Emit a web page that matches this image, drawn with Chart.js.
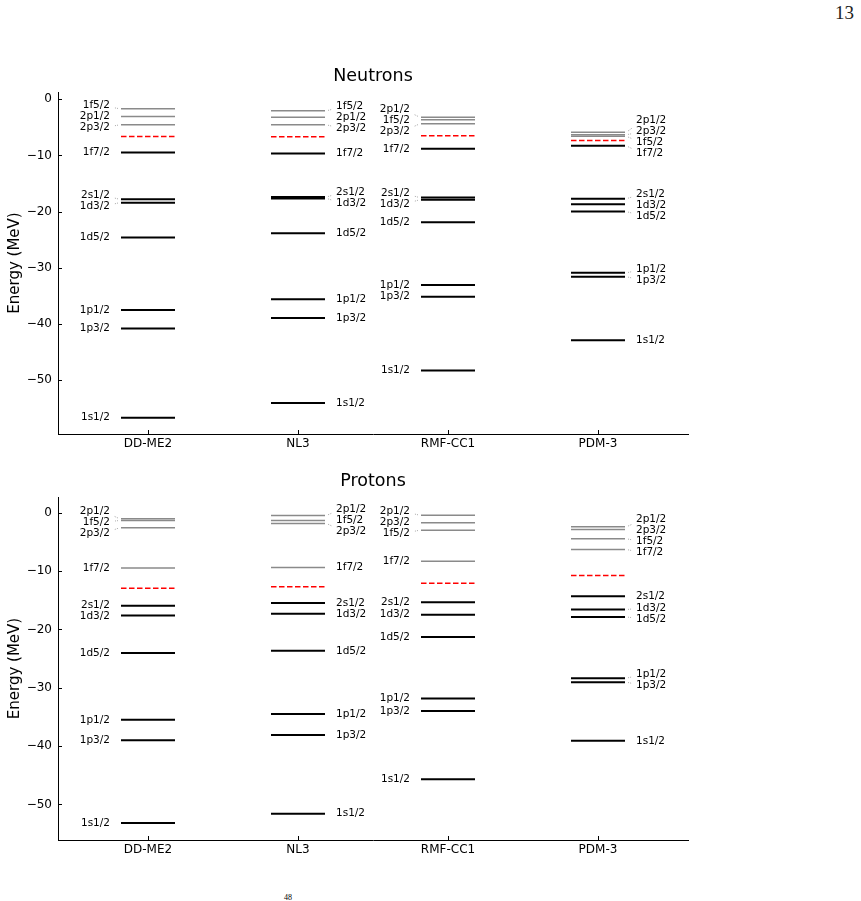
<!DOCTYPE html>
<html>
<head>
<meta charset="utf-8">
<script src="https://cdn.jsdelivr.net/npm/chart.js@4.4.1/dist/chart.umd.min.js"></script>
<style>
  html, body { margin: 0; padding: 0; background: #fff; }
  body { width: 861px; height: 901px; position: relative; overflow: hidden; }
  .panel { position: absolute; left: 0; width: 700px; height: 460px; }
  #pageNum { position: absolute; top: 2px; left: 835px; font-family: 'Liberation Serif', 'DejaVu Serif', serif; font-size: 19px; color: #222; }
  #footNote { position: absolute; top: 893px; left: 284px; font-family: 'Liberation Serif', serif; font-size: 8px; color: #000; }
</style>
</head>
<body>
<div id="pageNum">13</div>
<div class="panel" style="top:0px"><canvas id="neutronChart" width="700" height="460"></canvas></div>
<div class="panel" style="top:405px"><canvas id="protonChart" width="700" height="460"></canvas></div>
<div id="footNote">48</div>
<script>
// models and single-particle levels
const models = ["DD-ME2", "NL3", "RMF-CC1", "PDM-3"];
const levelNames = ["1s1/2", "1p3/2", "1p1/2", "1d5/2", "1d3/2", "2s1/2", "1f7/2", "2p3/2", "1f5/2", "2p1/2"];
const yTicks = [-50, -40, -30, -20, -10, 0];

// neutron levels (MeV), same order as levelNames
const neutronDDME2 = [-56.7, -40.8, -37.5, -24.6, -18.4, -17.8, -9.48, -4.55, -1.69, -3.06];
const neutronNL3   = [-54.1, -38.95, -35.6, -23.85, -17.65, -17.4, -9.66, -4.55, -2.05, -3.18];
const neutronRMF   = [-48.3, -35.15, -33.07, -21.9, -17.9, -17.5, -8.82, -4.37, -3.65, -3.18];
const neutronPDM   = [-42.9, -31.6, -30.9, -20.0, -18.7, -17.7, -8.29, -6.3, -6.6, -5.85];
const neutronFermi = [-6.63, -6.68, -6.5, -7.33];

// proton levels (MeV)
const protonDDME2 = [-53.2, -39.0, -35.5, -24.05, -17.6, -15.93, -9.45, -2.58, -1.32, -1.03];
const protonNL3   = [-51.6, -38.1, -34.5, -23.66, -17.3, -15.46, -9.4, -1.84, -1.32, -0.46];
const protonRMF   = [-45.7, -33.97, -31.85, -21.3, -17.47, -15.36, -8.31, -1.72, -2.98, -0.41];
const protonPDM   = [-39.1, -29.04, -28.35, -17.87, -16.6, -14.32, -6.3, -2.87, -4.47, -2.41];
const protonFermi = [-12.95, -12.7, -12.1, -10.77];

const HALF = 0.18;   // half length of a level line (category units)

// push overlapping labels apart (pixel space)
function spread(items, gap) {
    items.sort((a, b) => a.y - b.y);
    let groups = items.map(it => ({ items: [it], center: it.y }));
    let merged = true;
    while (merged) {
        merged = false;
        for (let k = 0; k < groups.length - 1; k++) {
            const a = groups[k], b = groups[k + 1];
            const aBottom = a.center + (a.items.length - 1) * gap / 2;
            const bTop = b.center - (b.items.length - 1) * gap / 2;
            if (bTop - aBottom < gap) {
                const all = a.items.concat(b.items);
                const c = all.reduce((s, it) => s + it.y, 0) / all.length;
                groups.splice(k, 2, { items: all, center: c });
                merged = true;
                break;
            }
        }
    }
    groups.forEach(g => g.items.forEach((it, n) => {
        it.ly = g.center + (n - (g.items.length - 1) / 2) * gap;
    }));
}

const decorations = {
    id: "decorations",
    afterDatasetsDraw(chart, args, opts) {
        const ctx = chart.ctx;
        const xs = chart.scales.x, ys = chart.scales.y;
        const area = chart.chartArea;
        ctx.save();

        // level labels
        ctx.font = "10.5px 'DejaVu Sans', sans-serif";
        ctx.textBaseline = "middle";
        opts.levels.forEach((arr, i) => {
            const left = i % 2 === 0;
            const items = arr.map((e, j) => ({ name: levelNames[j], y: ys.getPixelForValue(e) }));
            spread(items, 11);
            const edge = xs.getPixelForValue(left ? i - HALF : i + HALF);
            const tx = left ? edge - 11 : edge + 11;
            const dir = left ? -1 : 1;
            ctx.textAlign = left ? "right" : "left";
            items.forEach(it => {
                const dy = it.ly - it.y;
                if (Math.abs(dy) > 1.5) {
                    // short dotted connector next to the line end
                    ctx.save();
                    ctx.strokeStyle = "#888";
                    ctx.lineWidth = 0.7;
                    ctx.setLineDash([1, 1]);
                    ctx.beginPath();
                    ctx.moveTo(edge + dir * 3, it.y + dy * 0.1);
                    ctx.lineTo(edge + dir * 7, it.y + dy * 0.35);
                    ctx.stroke();
                    ctx.restore();
                }
                ctx.fillStyle = "#000";
                ctx.fillText(it.name, tx, it.ly);
            });
        });

        // inward ticks
        ctx.strokeStyle = "#000";
        ctx.lineWidth = 1;
        ctx.beginPath();
        yTicks.forEach(v => {
            const py = Math.round(ys.getPixelForValue(v)) + 0.5;
            ctx.moveTo(area.left, py);
            ctx.lineTo(area.left + 4, py);
        });
        models.forEach((m, i) => {
            const px = Math.round(xs.getPixelForValue(i)) + 0.5;
            ctx.moveTo(px, area.bottom);
            ctx.lineTo(px, area.bottom - 4);
        });
        ctx.stroke();

        // title
        ctx.fillStyle = "#000";
        ctx.font = "17.5px 'DejaVu Sans', sans-serif";
        ctx.textAlign = "center";
        ctx.textBaseline = "alphabetic";
        ctx.fillText(opts.title, (area.left + area.right) / 2, area.top - 11);

        // y axis title
        ctx.font = "15px 'DejaVu Sans', sans-serif";
        ctx.translate(19, (area.top + area.bottom) / 2);
        ctx.rotate(-Math.PI / 2);
        ctx.textAlign = "center";
        ctx.fillText("Energy (MeV)", 0, 0);
        ctx.restore();
    }
};

function makePanel(canvasId, title, levels, fermi, yMin, yMax, xHeight) {
    const datasets = [];
    levels.forEach((arr, i) => {
        arr.forEach((e, j) => {
            const occupied = e < fermi[i];
            datasets.push({
                label: levelNames[j],
                data: [{ x: i - HALF, y: e }, { x: i + HALF, y: e }],
                borderColor: occupied ? "#000000" : "#8a8a8a",
                borderWidth: occupied ? 2 : 1.5,
                showLine: true,
                pointRadius: 0
            });
        });
        datasets.push({
            label: "Fermi",
            data: [{ x: i - HALF, y: fermi[i] }, { x: i + HALF, y: fermi[i] }],
            borderColor: "#ff0000",
            borderWidth: 1.5,
            borderDash: [5.5, 2.5],
            showLine: true,
            pointRadius: 0
        });
    });

    return new Chart(document.getElementById(canvasId), {
        type: "scatter",
        data: { datasets: datasets },
        options: {
            responsive: false,
            animation: false,
            layout: { padding: { left: 0, top: 92, right: 12, bottom: 0 } },
            plugins: {
                legend: { display: false },
                tooltip: { enabled: false },
                decorations: { title: title, levels: levels }
            },
            scales: {
                x: {
                    type: "linear",
                    min: -0.6,
                    max: 3.6,
                    afterBuildTicks: s => { s.ticks = models.map((m, i) => ({ value: i })); },
                    afterFit: s => { s.height = xHeight; },
                    grid: { display: false, drawTicks: false },
                    border: { display: true, color: "#000", width: 1 },
                    ticks: {
                        padding: 3,
                        color: "#000",
                        font: { family: "'DejaVu Sans', sans-serif", size: 12 },
                        callback: v => models[v]
                    }
                },
                y: {
                    type: "linear",
                    min: yMin,
                    max: yMax,
                    afterBuildTicks: s => { s.ticks = yTicks.map(v => ({ value: v })); },
                    afterFit: s => { s.width = 58; },
                    grid: { display: false, drawTicks: false },
                    border: { display: true, color: "#000", width: 1 },
                    ticks: {
                        padding: 6,
                        color: "#000",
                        font: { family: "'DejaVu Sans', sans-serif", size: 12 },
                        callback: v => String(v).replace("-", "\u2212")
                    }
                }
            }
        },
        plugins: [decorations]
    });
}

makePanel("neutronChart", "Neutrons",
    [neutronDDME2, neutronNL3, neutronRMF, neutronPDM], neutronFermi, -59.6, 1.3, 26);
makePanel("protonChart", "Protons",
    [protonDDME2, protonNL3, protonRMF, protonPDM], protonFermi, -56.1, 2.7, 25);
</script>
</body>
</html>
